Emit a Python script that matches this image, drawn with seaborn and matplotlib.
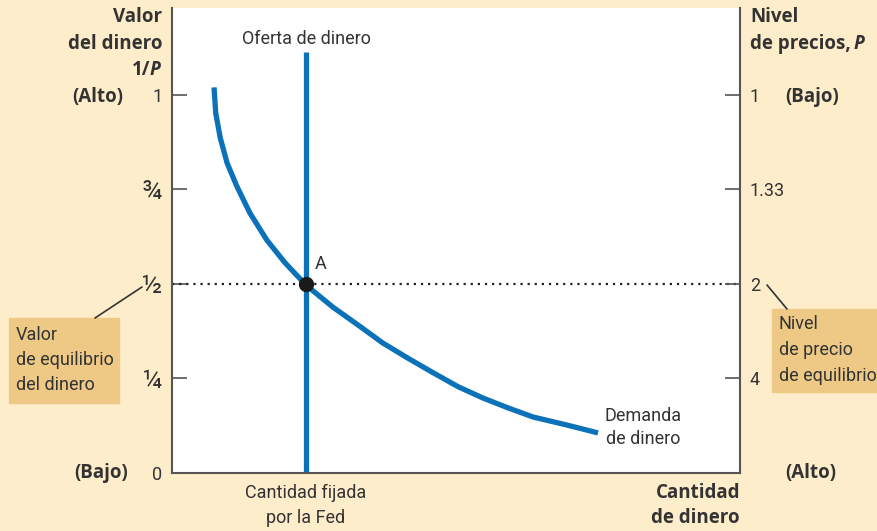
import matplotlib
matplotlib.use("Agg")
import matplotlib.pyplot as plt
import seaborn as sns
import pandas as pd

# DATA ---------------------------------------------------------------------------
# quantity of money on a 0-100 scale, value of money 1/P on 0-1
demand_qty = [7.4, 7.7, 8.5, 9.7, 11.4, 13.7, 16.7, 19.9, 23.6, 28.3, 32.7, 37.1, 41.5,
              46.0, 50.4, 54.8, 59.2, 63.6, 69.5, 75.0]
demand_val = [1.02, 0.952, 0.886, 0.820, 0.759, 0.688, 0.616, 0.556, 0.497, 0.439, 0.392,
              0.344, 0.304, 0.265, 0.228, 0.198, 0.172, 0.148, 0.127, 0.106]
supply_qty = [23.6, 23.6]
supply_val = [0.0, 1.114]
eq_qty, eq_val = 23.6, 0.5

left_ticks = [0, 0.25, 0.5, 0.75, 1]
left_labels = ["0", "¼", "½", "¾", "1"]
right_labels = ["", "4", "2", "1.33", "1"]

# STYLE --------------------------------------------------------------------------
sns.set_style("white")
BG = "#FEEDCA"
BOX = "#EDC985"
BLUE = "#0B72BA"
DARK = "#333333"
LIGHT = ["Roboto", "DejaVu Sans"]
BOLD = ["Open Sans", "DejaVu Sans"]
plt.rcParams["font.family"] = LIGHT

W, H = 877, 531
fig = plt.figure(figsize=(W / 100, H / 100), dpi=100, facecolor=BG)
ax = fig.add_axes([172 / W, 1 - 473 / H, 568 / W, 465 / H])
ax.set_facecolor("white")
ax.set_xlim(0, 100)
ax.set_ylim(0, 1.23)


def fx(px):
    return px / W


def fy(py):
    return 1 - py / H


# CURVES -------------------------------------------------------------------------
demand = pd.DataFrame({"qty": demand_qty, "val": demand_val})
sns.lineplot(data=demand, x="qty", y="val", sort=False, estimator=None, color=BLUE,
             lw=3.8, ax=ax, solid_capstyle="butt", solid_joinstyle="round")
sns.lineplot(x=supply_qty, y=supply_val, sort=False, estimator=None, color=BLUE,
             lw=3.8, ax=ax, solid_capstyle="butt")
ax.plot([0, 100], [eq_val, eq_val], ls=(0, (1, 2.2)), color="#222222", lw=1.6, zorder=1)
ax.plot([eq_qty], [eq_val], "o", color="#1a1a1a", ms=10, zorder=5)
ax.text(eq_qty + 1.5, eq_val + 0.03, "A", fontsize=13, color=DARK, ha="left", va="bottom")

# AXES ---------------------------------------------------------------------------
for s in ["left", "right", "bottom"]:
    ax.spines[s].set_color("#555555")
    ax.spines[s].set_linewidth(1.5)
ax.spines["top"].set_visible(False)
ax.set_xticks([])
ax.set_xlabel("")
ax.set_ylabel("")
ax.set_yticks(left_ticks)
ax.set_yticklabels(left_labels)
ax.tick_params(axis="y", direction="in", length=11, width=1.2, color="#555555",
               pad=7, labelsize=13, labelcolor=DARK)
for lab in ax.get_yticklabels()[1:4]:
    lab.set_fontsize(19)

ax2 = ax.twinx()
ax2.set_ylim(ax.get_ylim())
ax2.set_yticks(left_ticks)
ax2.set_yticklabels(right_labels)
ax2.tick_params(axis="y", direction="in", length=11, width=1.2, color="#555555",
                pad=7, labelsize=13, labelcolor=DARK)
ax2.yaxis.get_major_ticks()[0].tick2line.set_visible(False)
for s in ax2.spines.values():
    s.set_visible(False)

# TEXT ---------------------------------------------------------------------------
bold = dict(fontsize=13.5, fontweight="bold", color=DARK, family=BOLD)
fig.text(fx(162), fy(17), "Valor", ha="right", va="center", **bold)
fig.text(fx(162), fy(44), "del dinero", ha="right", va="center", **bold)
fig.text(fx(150), fy(70), "1/", ha="right", va="center", **bold)
fig.text(fx(150), fy(70), "P", ha="left", va="center", style="italic", **bold)
fig.text(fx(98), fy(97), "(Alto)", ha="center", va="center", **bold)
fig.text(fx(128), fy(473), "(Bajo)", ha="right", va="center", **bold)

fig.text(fx(750), fy(17), "Nivel", ha="left", va="center", **bold)
fig.text(fx(750), fy(44), "de precios,", ha="left", va="center", **bold)
fig.text(fx(854), fy(44), "P", ha="left", va="center", style="italic", **bold)
fig.text(fx(785), fy(97), "(Bajo)", ha="left", va="center", **bold)
fig.text(fx(785), fy(473), "(Alto)", ha="left", va="center", **bold)

fig.text(fx(740), fy(493), "Cantidad", ha="right", va="center", **bold)
fig.text(fx(740), fy(518), "de dinero", ha="right", va="center", **bold)

light = dict(fontsize=13, color=DARK)
fig.text(fx(306), fy(493), "Cantidad fijada", ha="center", va="center", **light)
fig.text(fx(306), fy(518), "por la Fed", ha="center", va="center", **light)
ax.text(eq_qty, 1.148, "Oferta de dinero", ha="center", va="center", **light)
ax.text(83, 0.15, "Demanda", ha="center", va="center", **light)
ax.text(83, 0.09, "de dinero", ha="center", va="center", **light)

# callout boxes
fig.patches.append(plt.Rectangle((fx(9), fy(403)), fx(110), 85 / H,
                                 transform=fig.transFigure, color=BOX, zorder=0))
fig.text(fx(16), fy(335), "Valor", ha="left", va="center", **light)
fig.text(fx(16), fy(360), "de equilibrio", ha="left", va="center", **light)
fig.text(fx(16), fy(385), "del dinero", ha="left", va="center", **light)
fig.lines.append(plt.Line2D([fx(95), fx(142)], [fy(318), fy(287)],
                            transform=fig.transFigure, color="#333333", lw=1.2))

fig.patches.append(plt.Rectangle((fx(772), fy(392)), fx(105), 83 / H,
                                 transform=fig.transFigure, color=BOX, zorder=0))
fig.text(fx(779), fy(324), "Nivel", ha="left", va="center", **light)
fig.text(fx(779), fy(350), "de precio", ha="left", va="center", **light)
fig.text(fx(779), fy(376), "de equilibrio", ha="left", va="center", **light)
fig.lines.append(plt.Line2D([fx(767), fx(787)], [fy(285), fy(309)],
                            transform=fig.transFigure, color="#333333", lw=1.2))

fig.savefig("out.png", dpi=100, facecolor=BG)
